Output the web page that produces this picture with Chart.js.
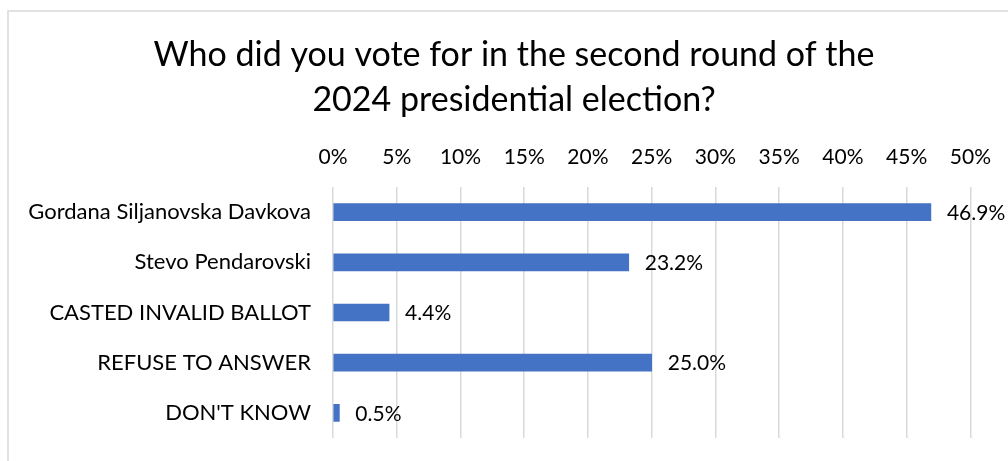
<!DOCTYPE html>
<html>
<head>
<meta charset="utf-8">
<title>Second round vote</title>
<script src="https://cdn.jsdelivr.net/npm/chart.js@4"></script>
<style>
  html, body { margin: 0; padding: 0; background: #fff; }
  canvas { display: block; }
</style>
</head>
<body>
<canvas id="voteChart" width="1008" height="461"></canvas>
<script>
// Survey answers, in the order they're listed top to bottom
const categories = [
  "Gordana Siljanovska Davkova",
  "Stevo Pendarovski",
  "CASTED INVALID BALLOT",
  "REFUSE TO ANSWER",
  "DON'T KNOW"
];
const shares = [46.9, 23.2, 4.4, 25.0, 0.5];
const tickValues = [0, 5, 10, 15, 20, 25, 30, 35, 40, 45, 50];
const titleLines = ["Who did you vote for in the second round of the", "2024 presidential election?"];

const FONT = "Lato";
const INK = "#000";
const GRID = "#d9d9d9";

// white card with the thin grey frame on the top and left, plus the heading
const frame = {
  id: "frame",
  beforeDraw(chart) {
    const ctx = chart.ctx;
    ctx.save();
    ctx.fillStyle = "#fff";
    ctx.fillRect(0, 0, chart.width, chart.height);
    ctx.strokeStyle = GRID;
    ctx.lineWidth = 1.5;
    ctx.beginPath();
    ctx.moveTo(8, chart.height);
    ctx.lineTo(8, 11);
    ctx.lineTo(chart.width, 11);
    ctx.stroke();

    // heading sits centred on the card, not on the plot area
    ctx.font = "34px " + FONT;
    ctx.fillStyle = INK;
    ctx.textAlign = "center";
    ctx.textBaseline = "middle";
    titleLines.forEach((line, i) => ctx.fillText(line, 514, 55 + i * 45));
    ctx.restore();
  }
};

// value text just past the end of each bar
const barValues = {
  id: "barValues",
  afterDatasetsDraw(chart) {
    const ctx = chart.ctx;
    const meta = chart.getDatasetMeta(0);
    ctx.save();
    ctx.font = "21px " + FONT;
    ctx.fillStyle = INK;
    ctx.textAlign = "left";
    ctx.textBaseline = "middle";
    meta.data.forEach((bar, i) => {
      ctx.fillText(shares[i].toFixed(1) + "%", bar.x + 16, bar.y + 1);
    });
    ctx.restore();
  }
};

new Chart(document.getElementById("voteChart"), {
  type: "bar",
  data: {
    labels: categories,
    datasets: [{
      data: shares,
      backgroundColor: "#4472c4",
      barThickness: 17
    }]
  },
  options: {
    indexAxis: "y",
    responsive: false,
    animation: false,
    layout: { padding: { left: 0, right: 37, top: 122, bottom: 23 } },
    plugins: {
      legend: { display: false },
      tooltip: { enabled: false },
      title: { display: false }
    },
    scales: {
      x: {
        position: "top",
        min: 0,
        max: 50,
        afterBuildTicks: (scale) => {
          scale.ticks = tickValues.map(v => ({ value: v }));
        },
        afterFit: (scale) => { scale.height = 65; },
        ticks: {
          color: INK,
          padding: 17,
          font: { family: FONT, size: 21 },
          callback: (v) => v + "%"
        },
        grid: { color: GRID, lineWidth: 1.5, drawTicks: false },
        border: { display: false }
      },
      y: {
        afterFit: (scale) => {
          scale.width = 333;
          // keep the label padding from shrinking the plot vertically
          scale.paddingTop = 0;
          scale.paddingBottom = 0;
        },
        ticks: {
          color: INK,
          padding: 22,
          font: { family: FONT, size: 22 }
        },
        grid: { display: false, drawTicks: false },
        border: { display: false }
      }
    }
  },
  plugins: [frame, barValues]
});
</script>
</body>
</html>
